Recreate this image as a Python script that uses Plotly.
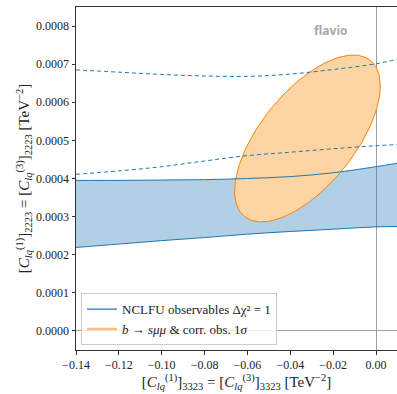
import numpy as np
import plotly.graph_objects as go

# ---- data ----
x_grid = [-0.14, -0.12, -0.10, -0.08, -0.06, -0.04, -0.02, 0.0, 0.01]
band_upper = [0.000395, 0.000395, 0.000396, 0.000397, 0.000400, 0.000405, 0.000415, 0.000431, 0.000440]
band_lower = [0.000219, 0.000228, 0.000237, 0.000245, 0.000254, 0.000261, 0.000267, 0.000273, 0.000274]
dash_upper = [0.000685, 0.000679, 0.000673, 0.000669, 0.000668, 0.000674, 0.000686, 0.000701, 0.000713]
dash_lower = [0.000411, 0.000420, 0.000431, 0.000446, 0.000460, 0.000469, 0.000478, 0.000486, 0.000489]

# orange 1-sigma contour (ellipse): centre, half-extents, correlation
ell_center = (-0.0320, 0.000505)
ell_halfwidth = (0.0340, 0.000219)
ell_rho = 0.63

x_ticks = [-0.14, -0.12, -0.10, -0.08, -0.06, -0.04, -0.02, 0.00]
y_ticks = [0.0, 0.0001, 0.0002, 0.0003, 0.0004, 0.0005, 0.0006, 0.0007, 0.0008]

legend_labels = ["NCLFU observables Δχ² = 1", "<i>b</i> → <i>sμμ</i> &amp; corr. obs. 1<i>σ</i>"]

BLUE = "#1f77b4"
ORANGE = "#ff7f0e"
FONT = "'Liberation Serif', 'DejaVu Serif', serif"

t = np.linspace(0, 2 * np.pi, 200)
ex = ell_center[0] + ell_halfwidth[0] * np.cos(t)
ey = ell_center[1] + ell_halfwidth[1] * (ell_rho * np.cos(t) + np.sqrt(1 - ell_rho ** 2) * np.sin(t))

fig = go.Figure()
# blue band fill
fig.add_trace(go.Scatter(x=x_grid + x_grid[::-1], y=band_upper + band_lower[::-1],
                         fill="toself", fillcolor="rgba(31,119,180,0.35)", line=dict(width=0),
                         mode="lines", showlegend=False, hoverinfo="skip"))
# orange ellipse
fig.add_trace(go.Scatter(x=ex, y=ey, fill="toself", fillcolor="rgb(253,213,162)",
                         line=dict(color=ORANGE, width=1), mode="lines", showlegend=False))
# blue lines
for yy in (band_upper, band_lower):
    fig.add_trace(go.Scatter(x=x_grid, y=yy, mode="lines", line=dict(color=BLUE, width=1, shape="spline"),
                             showlegend=False))
for yy in (dash_upper, dash_lower):
    fig.add_trace(go.Scatter(x=x_grid, y=yy, mode="lines",
                             line=dict(color=BLUE, width=1, dash="4px,3px", shape="spline"),
                             showlegend=False))
# legend entries
fig.add_trace(go.Scatter(x=[None], y=[None], mode="lines", line=dict(color=BLUE, width=1.2),
                         name=legend_labels[0]))
fig.add_trace(go.Scatter(x=[None], y=[None], mode="lines", line=dict(color="rgba(255,127,14,0.5)", width=2.5),
                         name=legend_labels[1]))

axis_common = dict(showline=True, linecolor="#333333", linewidth=1, mirror=True, ticks="outside",
                   ticklen=3.5, tickcolor="#333333", showgrid=False, zeroline=True,
                   zerolinecolor="#a0a0a0", zerolinewidth=1,
                   tickfont=dict(family=FONT, size=12, color="#222222"))

fig.update_layout(
    width=397, height=394,
    margin=dict(l=76, r=0, t=7, b=44),
    plot_bgcolor="white", paper_bgcolor="white",
    font=dict(family=FONT),
    xaxis=dict(range=[-0.14, 0.0098], tickvals=x_ticks, tickformat=".2f",
               title=dict(text="[<i>C</i><sub><i>lq</i></sub><sup>(1)</sup>]<sub>3323</sub> = [<i>C</i><sub><i>lq</i></sub><sup>(3)</sup>]<sub>3323</sub> [TeV<sup>−2</sup>]",
                          font=dict(family=FONT, size=15, color="#222222"), standoff=3),
               **axis_common),
    yaxis=dict(range=[-0.00005, 0.00085], tickvals=y_ticks, tickformat=".4f",
               title=dict(text="[<i>C</i><sub><i>lq</i></sub><sup>(1)</sup>]<sub>2223</sub> = [<i>C</i><sub><i>lq</i></sub><sup>(3)</sup>]<sub>2223</sub> [TeV<sup>−2</sup>]",
                          font=dict(family=FONT, size=15, color="#222222"), standoff=2),
               **axis_common),
    legend=dict(x=0.0156, y=0.014, xanchor="left", yanchor="bottom",
                bgcolor="rgba(255,255,255,0.8)", bordercolor="#cccccc", borderwidth=1,
                font=dict(family=FONT, size=13, color="#222222"), itemwidth=30, tracegroupgap=0),
    annotations=[dict(text="<b>flavio</b>", x=0.85, y=0.963, xref="paper", yref="paper",
                      showarrow=False, font=dict(family="Open Sans", size=12, color="#a8a8a8"))],
)

fig.write_html("out.html")
